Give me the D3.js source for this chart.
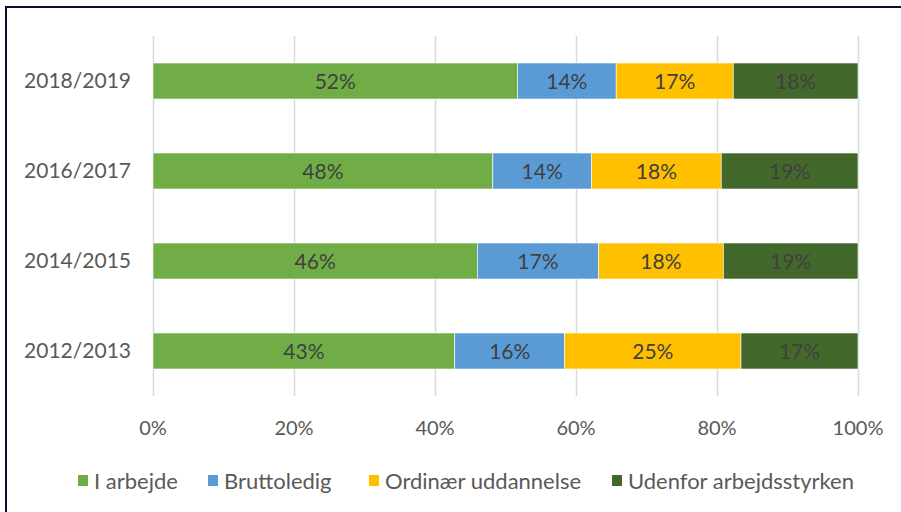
<!DOCTYPE html>
<html>
<head>
<meta charset="utf-8">
<script src="https://cdn.jsdelivr.net/npm/d3@7"></script>
<style>
  body { margin: 0; background: #fff; }
  svg text { font-family: Lato, "Open Sans", sans-serif; }
</style>
</head>
<body>
<div id="chart-container"></div>
<script>
const width = 901;
const height = 512;

// data (shares in %)
const years = ["2018/2019", "2016/2017", "2014/2015", "2012/2013"];
const series = ["I arbejde", "Bruttoledig", "Ordinær uddannelse", "Udenfor arbejdsstyrken"];
const iArbejde = [51.7, 48.2, 46.0, 42.8];
const bruttoledig = [14.0, 14.0, 17.2, 15.6];
const uddannelse = [16.6, 18.4, 17.7, 25.0];
const udenfor = [17.7, 19.4, 19.1, 16.6];
const ticks = [0, 20, 40, 60, 80, 100];
const colors = ["#70ad47", "#5b9bd5", "#ffc000", "#43682b"];

const svg = d3.select("div#chart-container").append("svg")
    .attr("width", width)
    .attr("height", height);

// frame of the embedded chart
svg.append("path")
    .attr("d", "M6,512 V7 H901")
    .attr("fill", "none")
    .attr("stroke", "#0b0b33")
    .attr("stroke-width", 2);

const rows = years.map(function (y, i) {
    return {
        year: y,
        "I arbejde": iArbejde[i],
        "Bruttoledig": bruttoledig[i],
        "Ordinær uddannelse": uddannelse[i],
        "Udenfor arbejdsstyrken": udenfor[i]
    }
})

const xScale = d3.scaleLinear().domain([0, 100]).range([153, 858]);
const yScale = d3.scaleBand().domain(years).range([36, 396]).paddingInner(0.6).paddingOuter(0.3);

// gridlines
svg.append("g")
    .selectAll("line")
    .data(ticks)
    .enter()
    .append("line")
    .attr("x1", d => xScale(d) + 0.5)
    .attr("x2", d => xScale(d) + 0.5)
    .attr("y1", 36)
    .attr("y2", 396)
    .attr("stroke", "#d9d9d9")
    .attr("stroke-width", 1.5);

// x tick labels
svg.append("g")
    .selectAll("text")
    .data(ticks)
    .enter()
    .append("text")
    .attr("x", d => xScale(d))
    .attr("y", 428)
    .attr("dy", "0.35em")
    .attr("text-anchor", "middle")
    .attr("font-size", 20)
    .attr("fill", "#595959")
    .text(d => d + "%");

// y labels
svg.append("g")
    .selectAll("text")
    .data(years)
    .enter()
    .append("text")
    .attr("x", 131)
    .attr("y", d => yScale(d) + yScale.bandwidth() / 2)
    .attr("dy", "0.35em")
    .attr("text-anchor", "end")
    .attr("font-size", 21)
    .attr("fill", "#595959")
    .text(d => d);

const stacked = d3.stack().keys(series)(rows);

const layer = svg.append("g")
    .selectAll("g")
    .data(stacked)
    .enter()
    .append("g")
    .attr("fill", (d, i) => colors[i]);

layer.selectAll("rect")
    .data(d => d)
    .enter()
    .append("rect")
    .attr("x", d => xScale(d[0]))
    .attr("y", d => yScale(d.data.year))
    .attr("width", d => xScale(d[1]) - xScale(d[0]))
    .attr("height", yScale.bandwidth())
    .attr("stroke", "#fff")
    .attr("stroke-width", 0.6);

layer.selectAll("text")
    .data(d => d)
    .enter()
    .append("text")
    .attr("x", d => (xScale(d[0]) + xScale(d[1])) / 2)
    .attr("y", d => yScale(d.data.year) + yScale.bandwidth() / 2)
    .attr("dy", "0.36em")
    .attr("text-anchor", "middle")
    .attr("font-size", 21)
    .attr("fill", "#404040")
    .text(d => Math.round(d[1] - d[0]) + "%");

// legend
const legendX = [78, 208, 369, 612];
const legend = svg.append("g")
    .selectAll("g")
    .data(series)
    .enter()
    .append("g")
    .attr("transform", (d, i) => "translate(" + legendX[i] + ",481)");

legend.append("rect")
    .attr("x", 0)
    .attr("y", -6)
    .attr("width", 10)
    .attr("height", 11)
    .attr("fill", (d, i) => colors[i]);

legend.append("text")
    .attr("x", 16)
    .attr("y", 0)
    .attr("dy", "0.35em")
    .attr("font-size", 22)
    .attr("fill", "#595959")
    .text(d => d);
</script>
</body>
</html>
